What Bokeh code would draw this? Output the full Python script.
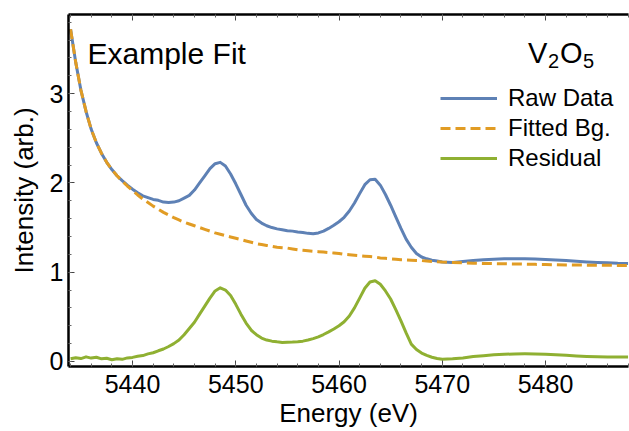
from bokeh.plotting import figure
from bokeh.models import (Range1d, LinearAxis, SingleIntervalTicker, Label,
                          Legend, LegendItem)
from bokeh.embed import file_html
from bokeh.resources import INLINE

# Energy grid (eV)
energy = [
    5434.0, 5434.5, 5435.0, 5435.5, 5436.0, 5436.5, 5437.0, 5437.5, 5438.0, 5438.5,
    5439.0, 5439.5, 5440.0, 5440.5, 5441.0, 5441.5, 5442.0, 5442.5, 5443.0, 5443.5,
    5444.0, 5444.5, 5445.0, 5445.5, 5446.0, 5446.5, 5447.0, 5447.5, 5448.0, 5448.5,
    5449.0, 5449.5, 5450.0, 5450.5, 5451.0, 5451.5, 5452.0, 5452.5, 5453.0, 5453.5,
    5454.0, 5454.5, 5455.0, 5455.5, 5456.0, 5456.5, 5457.0, 5457.5, 5458.0, 5458.5,
    5459.0, 5459.5, 5460.0, 5460.5, 5461.0, 5461.5, 5462.0, 5462.5, 5463.0, 5463.5,
    5464.0, 5464.5, 5465.0, 5465.5, 5466.0, 5466.5, 5467.0, 5467.5, 5468.0, 5468.5,
    5469.0, 5469.5, 5470.0, 5471.0, 5472.0, 5473.0, 5474.0, 5475.0, 5476.0, 5477.0,
    5478.0, 5479.0, 5480.0, 5481.0, 5482.0, 5483.0, 5484.0, 5485.0, 5486.0, 5487.0,
    5488.0,
]

# Measured spectrum
raw_data = [
    3.72, 3.35, 3.04, 2.80, 2.60, 2.45, 2.33, 2.23, 2.15, 2.08,
    2.025, 1.975, 1.93, 1.89, 1.855, 1.835, 1.815, 1.805, 1.785, 1.78,
    1.785, 1.80, 1.83, 1.86, 1.92, 2.00, 2.08, 2.16, 2.215, 2.23,
    2.19, 2.10, 1.99, 1.87, 1.75, 1.66, 1.59, 1.55, 1.52, 1.50,
    1.485, 1.475, 1.465, 1.46, 1.45, 1.445, 1.435, 1.43, 1.44, 1.46,
    1.49, 1.525, 1.565, 1.615, 1.685, 1.775, 1.88, 1.98, 2.035, 2.04,
    1.975, 1.87, 1.75, 1.62, 1.49, 1.37, 1.28, 1.21, 1.17, 1.15,
    1.135, 1.125, 1.115, 1.11, 1.12, 1.13, 1.14, 1.145, 1.15, 1.152,
    1.15, 1.147, 1.142, 1.137, 1.13, 1.122, 1.115, 1.11, 1.105, 1.10,
    1.098,
]

# Fitted background
fitted_bg = [
    3.72, 3.35, 3.04, 2.80, 2.60, 2.45, 2.33, 2.23, 2.15, 2.08,
    2.02, 1.965, 1.915, 1.865, 1.82, 1.78, 1.74, 1.705, 1.67, 1.64,
    1.61, 1.585, 1.56, 1.54, 1.52, 1.50, 1.48, 1.46, 1.44, 1.425,
    1.41, 1.395, 1.38, 1.365, 1.35, 1.335, 1.32, 1.31, 1.30, 1.29,
    1.28, 1.275, 1.27, 1.26, 1.25, 1.245, 1.24, 1.235, 1.23, 1.225,
    1.22, 1.215, 1.21, 1.20, 1.195, 1.19, 1.185, 1.18, 1.175, 1.17,
    1.16, 1.155, 1.15, 1.145, 1.14, 1.138, 1.135, 1.132, 1.13, 1.125,
    1.12, 1.118, 1.115, 1.11, 1.105, 1.10, 1.098, 1.096, 1.094, 1.092,
    1.09, 1.088, 1.086, 1.084, 1.082, 1.08, 1.079, 1.078, 1.077, 1.076,
    1.075,
]

# Background-subtracted residual
residual = [
    0.030, 0.042, 0.033, 0.052, 0.038, 0.047, 0.030, 0.036, 0.020, 0.031,
    0.024, 0.040, 0.046, 0.058, 0.066, 0.085, 0.098, 0.120, 0.140, 0.168,
    0.200, 0.240, 0.300, 0.370, 0.440, 0.530, 0.620, 0.710, 0.790, 0.825,
    0.800, 0.740, 0.640, 0.530, 0.430, 0.350, 0.300, 0.262, 0.240, 0.228,
    0.220, 0.214, 0.216, 0.218, 0.222, 0.228, 0.240, 0.256, 0.276, 0.302,
    0.332, 0.364, 0.400, 0.445, 0.510, 0.600, 0.710, 0.820, 0.890, 0.905,
    0.865, 0.790, 0.700, 0.580, 0.455, 0.320, 0.195, 0.135, 0.095, 0.068,
    0.048, 0.034, 0.025, 0.030, 0.040, 0.055, 0.065, 0.075, 0.080, 0.085,
    0.086, 0.085, 0.082, 0.076, 0.070, 0.062, 0.056, 0.052, 0.050, 0.050,
    0.050,
]

series_labels = ["Raw Data", "Fitted Bg.", "Residual"]
x_ticks_major = 10
y_ticks_major = 1

FONT = "Liberation Sans"
BLUE = "#5E81B5"
ORANGE = "#E19C24"
GREEN = "#8FB032"

p = figure(width=629, height=431, output_backend="svg", toolbar_location=None,
           x_range=Range1d(5433.8, 5488.04), y_range=Range1d(-0.056, 3.886),
           min_border_left=68, min_border_right=1, min_border_top=14,
           min_border_bottom=65, x_axis_location="below",
           background_fill_color="white", border_fill_color="white")
p.outline_line_color = None
p.grid.visible = False

p.xaxis.ticker = SingleIntervalTicker(interval=x_ticks_major, num_minor_ticks=5)
p.yaxis.ticker = SingleIntervalTicker(interval=y_ticks_major, num_minor_ticks=5)

for ax in (p.xaxis[0], p.yaxis[0]):
    ax.axis_line_width = 2.5
    ax.axis_line_color = "black"
    ax.major_tick_in = 6
    ax.major_tick_out = 0
    ax.minor_tick_in = 3
    ax.minor_tick_out = 0
    ax.major_tick_line_color = "#444444"
    ax.minor_tick_line_color = "#666666"
    ax.major_label_text_font = FONT
    ax.major_label_text_font_size = "25px"
    ax.major_label_text_color = "black"
    ax.axis_label_text_font = FONT
    ax.axis_label_text_font_size = "26px"
    ax.axis_label_text_font_style = "normal"
    ax.axis_label_text_color = "black"

p.xaxis.axis_label = "Energy (eV)"
p.yaxis.axis_label = "Intensity (arb.)"
p.xaxis.major_label_standoff = 8
p.xaxis.axis_label_standoff = 2
p.yaxis.major_label_standoff = 5
p.yaxis.axis_label_standoff = 8

# Mirrored top frame edge with ticks only (labels are not painted)
top = LinearAxis(ticker=SingleIntervalTicker(interval=x_ticks_major, num_minor_ticks=5),
                 axis_line_width=2.5, axis_line_color="black",
                 major_tick_in=6, major_tick_out=0, minor_tick_in=3, minor_tick_out=0,
                 major_tick_line_color="#444444", minor_tick_line_color="#666666",
                 major_label_text_color=None, major_label_text_font_size="1px",
                 major_label_standoff=0)
p.add_layout(top, "above")

r_raw = p.line(energy, raw_data, line_color=BLUE, line_width=3, line_join="round")
r_bg = p.line(energy, fitted_bg, line_color=ORANGE, line_width=3, line_dash="10 5")
r_res = p.line(energy, residual, line_color=GREEN, line_width=3, line_join="round")

legend = Legend(items=[LegendItem(label=series_labels[0], renderers=[r_raw]),
                       LegendItem(label=series_labels[1], renderers=[r_bg]),
                       LegendItem(label=series_labels[2], renderers=[r_res])],
                location=(372, 194), border_line_color=None,
                background_fill_alpha=0, label_text_font=FONT,
                label_text_font_size="24px", label_text_color="black",
                glyph_width=57, glyph_height=26, label_height=26,
                label_standoff=11, spacing=2, padding=0, margin=0)
p.add_layout(legend)

p.add_layout(Label(x=5435.64, y=3.45, text="Example Fit", text_font=FONT,
                   text_font_size="30px", text_color="black",
                   text_baseline="alphabetic"))

# Formula with subscripts, built from pieces
fx, fy = 5478.3, 3.45
for txt, dx, dy, size in [("V", 0, 0, "29px"), ("2", 20, -8, "20px"),
                          ("O", 32, 0, "29px"), ("5", 55, -8, "20px")]:
    p.add_layout(Label(x=fx, y=fy, x_offset=dx, y_offset=dy, text=txt,
                       text_font=FONT, text_font_size=size, text_color="black",
                       text_baseline="alphabetic"))

open("out.html", "w").write(file_html(p, INLINE))
